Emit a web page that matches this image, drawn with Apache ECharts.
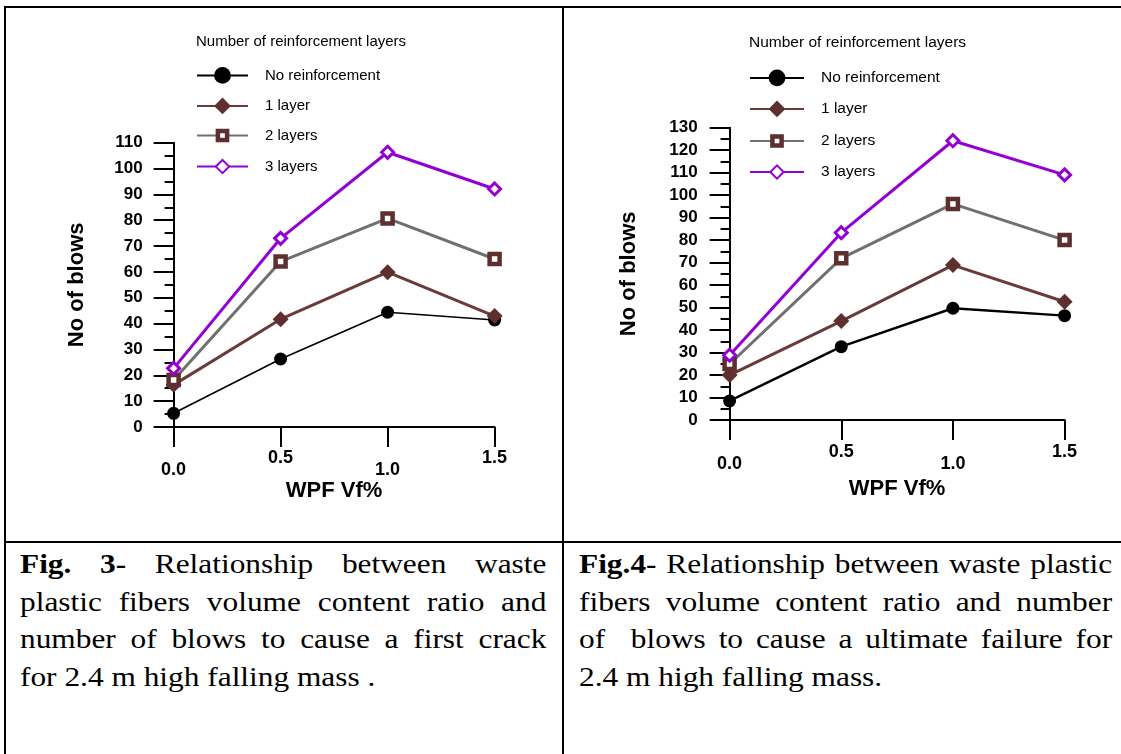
<!DOCTYPE html>
<html>
<head>
<meta charset="utf-8">
<title>WPF Vf% vs number of blows</title>
<script src="https://cdn.jsdelivr.net/npm/echarts@6.0.0/dist/echarts.min.js"></script>
<style>
  body {
    margin: 0;
    background: #fff;
  }
  #page {
    position: relative;
    width: 1121px;
    height: 754px;
    overflow: hidden;
    background: #fff;
  }
  #chart {
    position: absolute;
    left: 0;
    top: 0;
    width: 1121px;
    height: 540px;
  }
  .rule {
    position: absolute;
    background: #000;
    z-index: 2;
  }
  .cap {
    position: absolute;
    font-family: "Liberation Serif", "Times New Roman", Tinos, serif;
    font-size: 28px;
    line-height: 37.5px;
    color: #000;
    transform: scaleX(1.12);
    transform-origin: left top;
  }
  .cap div {
    text-align: justify;
    text-align-last: justify;
  }
  .cap div.last {
    text-align: left;
    text-align-last: left;
  }
</style>
</head>
<body>
<div id="page">
  <div id="chart"></div>

  <!-- table rules -->
  <div class="rule" style="left:4px; top:6px; width:1117px; height:2px"></div>
  <div class="rule" style="left:4px; top:6px; width:2px; height:748px"></div>
  <div class="rule" style="left:562px; top:6px; width:2px; height:748px"></div>
  <div class="rule" style="left:4px; top:541px; width:1117px; height:2px"></div>

  <div class="cap" style="left:20px; top:545px; width:470px">
    <div><b>Fig. 3-</b> Relationship between waste</div>
    <div>plastic fibers volume content ratio and</div>
    <div>number of blows to cause a first crack</div>
    <div class="last">for 2.4 m high falling mass .</div>
  </div>
  <div class="cap" style="left:579px; top:545px; width:476px">
    <div><b>Fig.4-</b> Relationship between waste plastic</div>
    <div>fibers volume content ratio and number</div>
    <div>of&nbsp; blows to cause a ultimate failure for</div>
    <div class="last">2.4 m high falling mass.</div>
  </div>
</div>

<script>
// WPF volume content (%)
const vf = [0, 0.5, 1.0, 1.5];
const layerNames = ['No reinforcement', '1 layer', '2 layers', '3 layers'];

// Fig. 3 - blows to first crack
const crackNone = [5.3, 26.3, 44.4, 41.4];
const crack1 = [16.3, 41.7, 59.9, 42.9];
const crack2 = [18.2, 64, 80.7, 65];
const crack3 = [22.7, 73, 106.3, 92.1];

// Fig. 4 - blows to ultimate failure
const failNone = [8.5, 32.6, 49.7, 46.4];
const fail1 = [20, 44, 68.9, 52.6];
const fail2 = [24.9, 71.9, 96.1, 80];
const fail3 = [28.8, 83.3, 124.2, 109];

const FONT = '"Liberation Sans", Arial, sans-serif';

// look of each series (same in both figures)
const looks = [
  { symbol: 'circle', symbolSize: 13, line: { color: '#000', width: 2 }, item: { color: '#000' } },
  { symbol: 'diamond', symbolSize: 16, line: { color: '#6b3a3a', width: 3 }, item: { color: '#5e2f2f' } },
  { symbol: 'rect', symbolSize: 10, line: { color: '#707070', width: 3 },
    item: { color: '#fff', borderColor: '#5e2f2f', borderWidth: 4.5 } },
  { symbol: 'diamond', symbolSize: 12, line: { color: '#9400d3', width: 3 },
    item: { color: '#fff', borderColor: '#9400d3', borderWidth: 3 } }
];
// black line is thinner in Fig. 3
const blackWidth = [1.6, 2.4];

// legend icon height per item (icon symbol = 0.8 of it)
const legendIconH = [21, 21, 11.5, 16.5];

const makeSeries = (values, idx, axis) => ({
  name: layerNames[idx],
  type: 'line',
  xAxisIndex: axis,
  yAxisIndex: axis,
  data: vf.map((x, i) => [x, values[i]]),
  symbol: looks[idx].symbol,
  symbolSize: looks[idx].symbolSize,
  lineStyle: idx === 0 ? { color: '#000', width: blackWidth[axis] } : looks[idx].line,
  itemStyle: looks[idx].item,
  emphasis: { disabled: true },
  z: 2 + idx
});

const xAxisFor = (gridIndex, margin, nameGap) => ({
  gridIndex: gridIndex,
  type: 'value',
  min: 0,
  max: 1.5,
  interval: 0.5,
  splitLine: { show: false },
  axisLine: { show: true, lineStyle: { color: '#000', width: 2 } },
  axisTick: { show: true, length: 20, lineStyle: { color: '#000', width: 2 } },
  axisLabel: {
    margin: margin,
    color: '#000',
    // labels alternate in height like the original
    formatter: (v) => (Math.round(v * 2) % 2 === 0 ? '{lo|' : '{hi|') + v.toFixed(1) + '}',
    rich: {
      lo: { padding: [12, 0, 0, 0], fontSize: 18, fontWeight: 'bold', fontFamily: FONT, color: '#000' },
      hi: { fontSize: 18, fontWeight: 'bold', fontFamily: FONT, color: '#000' }
    }
  },
  name: 'WPF Vf%',
  nameLocation: 'middle',
  nameGap: nameGap,
  nameMoveOverlap: false,
  nameTextStyle: { fontSize: 22, fontWeight: 'bold', fontFamily: FONT, color: '#000' }
});

const yAxisFor = (gridIndex, max, margin, nameGap) => ({
  gridIndex: gridIndex,
  type: 'value',
  min: 0,
  max: max,
  interval: 10,
  splitLine: { show: false },
  axisLine: { show: true, lineStyle: { color: '#000', width: 2 } },
  axisTick: { show: true, length: 20, lineStyle: { color: '#000', width: 2 } },
  minorTick: { show: true, splitNumber: 2, length: 9, lineStyle: { color: '#000', width: 2 } },
  axisLabel: { margin: margin, fontSize: 17, fontWeight: 'bold', fontFamily: FONT, color: '#000' },
  name: 'No of blows',
  nameLocation: 'middle',
  nameRotate: 90,
  nameGap: nameGap,
  nameMoveOverlap: false,
  nameTextStyle: { fontSize: 22, fontWeight: 'bold', fontFamily: FONT, color: '#000' }
});

// one legend per entry, so each icon can get its own size
const legendsFor = (left, centers, itemWidth, fontSize) => layerNames.map((name, idx) => ({
  data: [idx === 2 ? { name: name, itemStyle: { borderWidth: 4.5 } } : name],
  orient: 'vertical',
  left: left,
  top: centers[idx] - 7.5,
  padding: 0,
  itemWidth: itemWidth,
  itemHeight: legendIconH[idx],
  selectedMode: false,
  textStyle: { fontSize: fontSize, fontFamily: FONT, color: '#000', padding: [0, 0, 0, 12] }
}));

const titleFor = (left, top, fontSize) => ({
  text: 'Number of reinforcement layers',
  left: left,
  top: top,
  padding: 0,
  textStyle: { fontSize: fontSize, fontWeight: 'normal', fontFamily: FONT, color: '#000' }
});

const chart = echarts.init(document.getElementById('chart'));

chart.setOption({
  animation: false,
  backgroundColor: 'transparent',
  textStyle: { fontFamily: FONT },
  title: [
    titleFor(196, 34, 15),
    titleFor(749, 35, 15.5)
  ],
  legend: legendsFor(196, [74.5, 105, 135.5, 166.5], 51, 15)
    .concat(legendsFor(749, [77, 108, 140.5, 171.5], 54, 15.5)),
  grid: [
    { left: 173.6, top: 142.7, width: 321, height: 284.3, outerBoundsMode: 'none' },
    { left: 729.6, top: 127.7, width: 335, height: 292.3, outerBoundsMode: 'none' }
  ],
  xAxis: [
    xAxisFor(0, 22, 52.5),
    xAxisFor(1, 23, 58)
  ],
  yAxis: [
    yAxisFor(0, 110, 31, 85.5),
    yAxisFor(1, 130, 32, 90)
  ],
  series: [
    makeSeries(crackNone, 0, 0),
    makeSeries(crack1, 1, 0),
    makeSeries(crack2, 2, 0),
    makeSeries(crack3, 3, 0),
    makeSeries(failNone, 0, 1),
    makeSeries(fail1, 1, 1),
    makeSeries(fail2, 2, 1),
    makeSeries(fail3, 3, 1)
  ]
});
</script>
</body>
</html>
